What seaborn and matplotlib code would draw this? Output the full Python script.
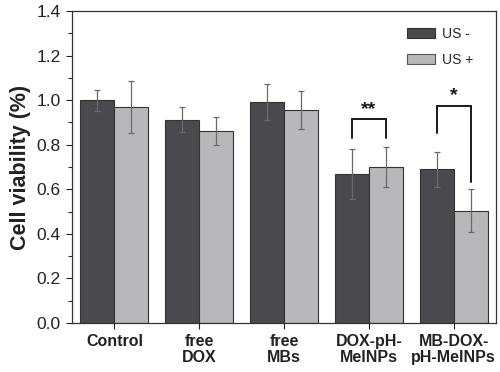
import numpy as np
import pandas as pd
import matplotlib
matplotlib.use('Agg')
import matplotlib.pyplot as plt
from matplotlib.ticker import MultipleLocator
from matplotlib.patches import Patch
import seaborn as sns

groups = ['Control', 'free\nDOX', 'free\nMBs', 'DOX-pH-\nMelNPs', 'MB-DOX-\npH-MelNPs']
conditions = ['US -', 'US +']
us_minus = [1.00, 0.913, 0.992, 0.668, 0.690]
us_minus_err = [0.047, 0.055, 0.082, 0.112, 0.079]
us_plus = [0.970, 0.863, 0.956, 0.700, 0.504]
us_plus_err = [0.116, 0.062, 0.085, 0.091, 0.096]

# significance brackets: group index, bracket top, left leg end, right leg end, label
sig_groups = [3, 4]
sig_top = [0.914, 0.974]
sig_left = [0.830, 0.853]
sig_right = [0.830, 0.634]
sig_text = ['**', '*']

dark = '#4a4a4e'
light = '#b8b8bb'

df = pd.DataFrame({
    'group': groups * 2,
    'cond': [conditions[0]] * 5 + [conditions[1]] * 5,
    'val': us_minus + us_plus,
})

sns.set_style('ticks')
plt.rcParams['font.family'] = ['Liberation Sans', 'DejaVu Sans']
plt.rcParams['xtick.direction'] = 'out'
plt.rcParams['ytick.direction'] = 'out'

fig = plt.figure(figsize=(5, 3.72), dpi=100)
ax = fig.add_axes([0.144, 0.132, 0.848, 0.838])

sns.barplot(data=df, x='group', y='val', hue='cond', palette=[dark, light],
            errorbar=None, width=0.8, saturation=1, edgecolor='#333333',
            linewidth=0.8, ax=ax, legend=False)

errs = [us_minus_err, us_plus_err]
vals = [us_minus, us_plus]
bar_sets = list(ax.containers)[:2]
centers = []
for i, cont in enumerate(bar_sets):
    xs = [b.get_x() + b.get_width() / 2 for b in cont]
    centers.append(xs)
for i in range(2):
    ax.errorbar(centers[i], vals[i], yerr=errs[i], fmt='none', ecolor='#6a6a6a',
                elinewidth=0.9, capsize=2.5, capthick=0.9, zorder=3)

for g, top, yl, yr, t in zip(sig_groups, sig_top, sig_left, sig_right, sig_text):
    xl = centers[0][g]
    xr = centers[1][g]
    ax.plot([xl, xl, xr, xr], [yl, top, top, yr], color='#1a1a1a', lw=1.4,
            solid_joinstyle='miter', zorder=4)
    ax.text((xl + xr) / 2, top + 0.008, t, ha='center', va='bottom',
            fontsize=14, fontweight='bold', color='#1a1a1a')

ax.set_ylim(0, 1.4)
ax.set_xlim(-0.5, 4.5)
ax.yaxis.set_major_locator(MultipleLocator(0.2))
ax.yaxis.set_minor_locator(MultipleLocator(0.1))
ax.yaxis.set_major_formatter(matplotlib.ticker.FormatStrFormatter('%.1f'))
ax.tick_params(axis='y', which='major', length=4.5, width=0.8, labelsize=12.5,
               colors='#222222', pad=3.5)
ax.tick_params(axis='y', which='minor', length=3, width=0.8)
ax.tick_params(axis='x', length=4.5, width=0.8, labelsize=11.5, colors='#222222')
for lab in ax.get_xticklabels():
    lab.set_fontweight('bold')
    lab.set_linespacing(1.1)

ax.set_xlabel('')
ax.set_ylabel('Cell viability (%)', fontsize=15.5, fontweight='bold',
              color='#222222', labelpad=4)
for s in ax.spines.values():
    s.set_linewidth(0.9)
    s.set_color('#333333')

handles = [Patch(facecolor=dark, edgecolor='#333333', linewidth=0.8, label='US -'),
           Patch(facecolor=light, edgecolor='#555555', linewidth=0.8, label='US +')]
ax.legend(handles=handles, loc='upper right', frameon=False, fontsize=10,
          handlelength=2.0, handleheight=0.75, handletextpad=0.5,
          labelspacing=0.85, bbox_to_anchor=(0.975, 0.99))

fig.savefig('out.png', dpi=100)
